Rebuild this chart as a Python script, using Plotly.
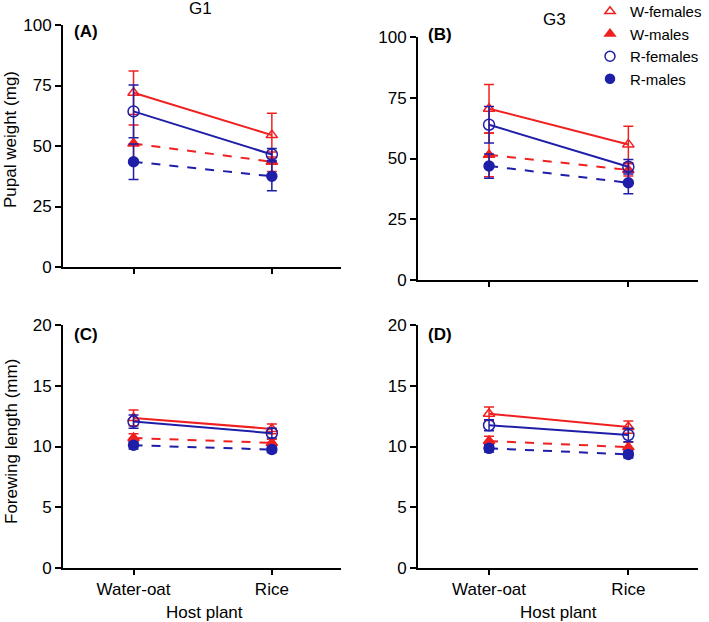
import plotly.graph_objects as go
from plotly.subplots import make_subplots

# host plants on the x axis
hosts = ["Water-oat", "Rice"]
xpos = [0, 1]

groups = ["W-females", "W-males", "R-females", "R-males"]

# (A) G1 pupal weight (mg)
g1_weight = {"W-females": [72.0, 54.5], "W-males": [51.0, 43.5],
             "R-females": [64.3, 46.5], "R-males": [43.5, 37.5]}
g1_weight_se = {"W-females": [9.0, 9.0], "W-males": [7.7, 4.0],
                "R-females": [10.9, 2.5], "R-males": [7.3, 6.0]}

# (B) G3 pupal weight (mg)
g3_weight = {"W-females": [70.5, 55.8], "W-males": [51.5, 45.3],
             "R-females": [63.9, 46.6], "R-males": [46.9, 40.0]}
g3_weight_se = {"W-females": [10.0, 7.5], "W-males": [9.0, 2.5],
                "R-females": [7.5, 3.0], "R-males": [5.0, 4.5]}

# (C) G1 forewing length (mm)
g1_wing = {"W-females": [12.35, 11.45], "W-males": [10.7, 10.3],
           "R-females": [12.05, 11.1], "R-males": [10.1, 9.75]}
g1_wing_se = {"W-females": [0.65, 0.4], "W-males": [0.35, 0.3],
              "R-females": [0.55, 0.4], "R-males": [0.3, 0.25]}

# (D) G3 forewing length (mm)
g3_wing = {"W-females": [12.7, 11.6], "W-males": [10.45, 9.95],
           "R-females": [11.75, 10.95], "R-males": [9.85, 9.35]}
g3_wing_se = {"W-females": [0.55, 0.5], "W-males": [0.4, 0.4],
              "R-females": [0.45, 0.55], "R-males": [0.3, 0.3]}

RED = "#f02020"
BLUE = "#1e1ea8"
style = {
    "W-females": dict(color=RED, dash="solid", symbol="triangle-up-open", size=10),
    "W-males": dict(color=RED, dash="dash", symbol="triangle-up", size=10),
    "R-females": dict(color=BLUE, dash="solid", symbol="circle-open", size=11),
    "R-males": dict(color=BLUE, dash="dash", symbol="circle", size=10),
}

FONT = "Liberation Sans, Arial, sans-serif"
W, H = 709, 622

fig = make_subplots(rows=2, cols=2)

panels = [(g1_weight, g1_weight_se, 1, 1), (g3_weight, g3_weight_se, 1, 2),
          (g1_wing, g1_wing_se, 2, 1), (g3_wing, g3_wing_se, 2, 2)]

for vals, errs, r, c in panels:
    for g in groups:
        s = style[g]
        fig.add_trace(go.Scatter(
            x=xpos, y=vals[g], mode="lines+markers", showlegend=False,
            line=dict(color=s["color"], width=2, dash=s["dash"]),
            marker=dict(symbol=s["symbol"], size=s["size"], color=s["color"],
                        line=dict(color=s["color"], width=1.5)),
            error_y=dict(type="data", array=errs[g], color=s["color"],
                         thickness=1.5, width=5),
        ), row=r, col=c)

# legend-only entries (markers without line)
for g in groups:
    s = style[g]
    fig.add_trace(go.Scatter(
        x=[None], y=[None], mode="markers", name=g,
        marker=dict(symbol=s["symbol"], size=s["size"] - 1, color=s["color"],
                    line=dict(color=s["color"], width=1.5)),
    ), row=1, col=2)

# panel positions in pixels (left, right, top, bottom)
boxes = {(1, 1): (63, 341, 25, 267), (1, 2): (418, 698, 37, 280),
         (2, 1): (63, 341, 325, 568), (2, 2): (418, 698, 325, 568)}

for (r, c), (x0, x1, y0, y1) in boxes.items():
    top = r == 1
    fig.update_xaxes(domain=[x0 / W, x1 / W], range=[-0.51, 1.5],
                     tickvals=xpos, ticktext=hosts if not top else ["", ""],
                     showline=True, linecolor="black", linewidth=2,
                     ticks="outside", ticklen=5, tickwidth=1.5, tickcolor="black",
                     showgrid=False, zeroline=False,
                     tickfont=dict(family=FONT, size=17, color="black"),
                     row=r, col=c)
    fig.update_yaxes(domain=[1 - y1 / H, 1 - y0 / H],
                     range=[0, 100] if top else [0, 20],
                     dtick=25 if top else 5,
                     showline=True, linecolor="black", linewidth=2,
                     ticks="outside", ticklen=6, tickwidth=1.5, tickcolor="black",
                     showgrid=False, zeroline=False,
                     tickfont=dict(family=FONT, size=17, color="black"),
                     row=r, col=c)

def px_note(text, x, y, size=17, bold=False, angle=0, xanchor="center"):
    fig.add_annotation(text=f"<b>{text}</b>" if bold else text,
                       x=x / W, y=1 - y / H, xref="paper", yref="paper",
                       showarrow=False, textangle=angle, xanchor=xanchor,
                       yanchor="middle",
                       font=dict(family=FONT, size=size, color="black"))

px_note("G1", 200, 9)
px_note("G3", 554, 19)
px_note("(A)", 72, 31, bold=True, xanchor="left")
px_note("(B)", 426, 34, bold=True, xanchor="left")
px_note("(C)", 72, 334, bold=True, xanchor="left")
px_note("(D)", 426, 334, bold=True, xanchor="left")
px_note("Pupal weight (mg)", 11, 140, angle=-90)
px_note("Forewing length (mm)", 11, 442, angle=-90)
px_note("Host plant", 204, 612)
px_note("Host plant", 558, 612)

fig.update_layout(
    width=W, height=H,
    margin=dict(l=0, r=0, t=0, b=0, autoexpand=False),
    plot_bgcolor="white", paper_bgcolor="white",
    font=dict(family=FONT, size=17, color="black"),
    legend=dict(x=590 / W, y=1 + 5 / H, xanchor="left", yanchor="top",
                bgcolor="rgba(0,0,0,0)", tracegroupgap=0, itemwidth=30,
                borderwidth=0,
                font=dict(family=FONT, size=15, color="black")),
)

# drop the page's default body margin so the figure sits at the top-left corner
fig.write_html("out.html", config={"displayModeBar": False},
               post_script="document.body.style.margin='0';document.body.style.padding='0';")
